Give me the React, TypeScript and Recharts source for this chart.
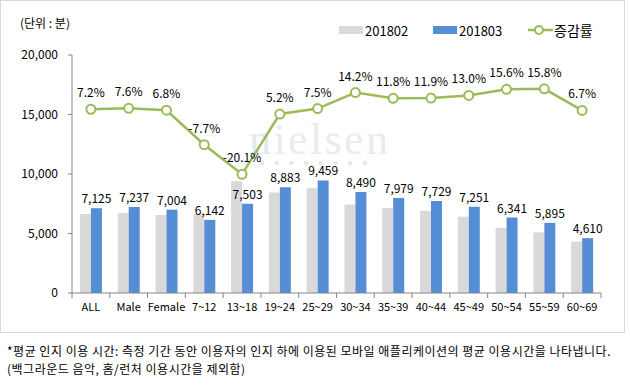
import { ComposedChart, Bar, Line, XAxis, YAxis, LabelList } from "recharts";

// 카테고리 / 월별 평균 이용시간(분) / 증감률(%)
const categories = ["ALL", "Male", "Female", "7~12", "13~18", "19~24", "25~29", "30~34", "35~39", "40~44", "45~49", "50~54", "55~59", "60~69"];
const feb2018 = [6646, 6726, 6558, 6654, 9390, 8444, 8799, 7434, 7137, 6907, 6417, 5485, 5091, 4321];
const mar2018 = [7125, 7237, 7004, 6142, 7503, 8883, 9459, 8490, 7979, 7729, 7251, 6341, 5895, 4610];
const growth = [7.2, 7.6, 6.8, -7.7, -20.1, 5.2, 7.5, 14.2, 11.8, 11.9, 13.0, 15.6, 15.8, 6.7];
const yTicks = [0, 5000, 10000, 15000, 20000];

const data = categories.map((name, i) => ({
  name,
  feb: feb2018[i],
  mar: mar2018[i],
  rate: growth[i],
}));

const W = 630;
const H = 386;
const margin = { top: 55, right: 29, left: 0, bottom: 63 };
const yAxisWidth = 72;
const band = (W - margin.left - margin.right - yAxisWidth) / categories.length;
const font = "'Noto Sans CJK KR', 'Noto Sans', sans-serif";
const axisColor = "#868686";

function CategoryTick(props: any) {
  const { x, y, payload, index } = props;
  const last = index === categories.length - 1;
  return (
    <g>
      <line x1={x - band / 2} x2={x - band / 2} y1={y} y2={y + 5} stroke={axisColor} />
      {last && <line x1={x + band / 2} x2={x + band / 2} y1={y} y2={y + 5} stroke={axisColor} />}
      <text x={x} y={y + 18} textAnchor="middle" fontSize={11} fill="#000" fontFamily={font}>
        {payload.value}
      </text>
    </g>
  );
}

// 범례: 차트 위쪽 여백을 바꾸지 않도록 차트 밖에 둔다
function ChartLegend() {
  const item = { display: "flex", alignItems: "center", fontSize: 13, color: "#000" } as const;
  return (
    <div style={{ position: "absolute", left: 339, top: 20, display: "flex", fontFamily: font }}>
      <div style={{ ...item, width: 94 }}>
        <span style={{ width: 24, height: 8, background: "#d9d9d9", marginRight: 2 }} />201802
      </div>
      <div style={{ ...item, width: 95 }}>
        <span style={{ width: 24, height: 8, background: "#558ed5", marginRight: 2 }} />201803
      </div>
      <div style={{ ...item, fontSize: 14 }}>
        <svg width={25} height={12} style={{ marginRight: 1 }}>
          <line x1={0} x2={25} y1={6} y2={6} stroke="#9bbb59" strokeWidth={2.5} />
          <circle cx={11} cy={6} r={4} fill="#fff" stroke="#9bbb59" strokeWidth={2} />
        </svg>
        증감률
      </div>
    </div>
  );
}

function Watermark() {
  const dots = [0, 1, 2, 3, 4, 5, 6, 7];
  return (
    <svg width={W} height={H} style={{ position: "absolute", left: 0, top: 0 }}>
      <text
        x={249}
        y={154}
        fontSize={44}
        textLength={139}
        lengthAdjust="spacing"
        fontFamily="'Liberation Serif', serif"
        fill="#ebebeb"
      >
        <tspan fill="#dcebf3">n</tspan>ielsen
      </text>
      {dots.map((d) => (
        <circle key={d} cx={262 + d * 14.7} cy={163} r={2.2} fill="#e6e6e6" />
      ))}
    </svg>
  );
}

export default function App() {
  return (
    <div style={{ position: "absolute", left: 0, top: 0, width: W, height: H, background: "#fff" }}>
      <div
        style={{
          position: "absolute",
          left: 0,
          top: 0,
          width: 625,
          height: 333,
          border: "1px solid #d9d9d9",
          boxSizing: "border-box",
        }}
      />
      <Watermark />
      <div style={{ position: "absolute", left: 20, top: 14, fontSize: 12, fontFamily: font, color: "#000" }}>
        (단위 : 분)
      </div>
      <ChartLegend />
      <div style={{ position: "absolute", left: 0, top: 0 }}>
        <ComposedChart width={W} height={H} data={data} margin={margin} barGap={0} barCategoryGap="21%">
          <XAxis
            dataKey="name"
            axisLine={{ stroke: axisColor }}
            tickLine={false}
            tickSize={0}
            tickMargin={0}
            height={30}
            interval={0}
            tick={<CategoryTick />}
          />
          <YAxis
            yAxisId="left"
            width={yAxisWidth}
            domain={[0, 20000]}
            ticks={yTicks}
            axisLine={{ stroke: axisColor }}
            tickLine={{ stroke: axisColor }}
            tickSize={4}
            tickMargin={10}
            tick={{ fontSize: 12, fill: "#000", fontFamily: font }}
            tickFormatter={(v: number) => v.toLocaleString("en-US")}
          />
          <YAxis yAxisId="right" orientation="right" hide domain={[-70, 30]} />
          <Bar yAxisId="left" dataKey="feb" name="201802" fill="#d9d9d9" isAnimationActive={false} />
          <Bar yAxisId="left" dataKey="mar" name="201803" fill="#558ed5" isAnimationActive={false}>
            <LabelList
              dataKey="mar"
              position="top"
              offset={5}
              fontSize={12}
              fill="#000"
              fontFamily={font}
              formatter={(v: any) => Number(v).toLocaleString("en-US")}
            />
          </Bar>
          <Line
            yAxisId="right"
            dataKey="rate"
            name="증감률"
            stroke="#9bbb59"
            strokeWidth={2.5}
            dot={{ r: 4.5, fill: "#fff", stroke: "#9bbb59", strokeWidth: 2 }}
            isAnimationActive={false}
          >
            <LabelList
              dataKey="rate"
              position="top"
              offset={12}
              fontSize={12}
              fill="#000"
              fontFamily={font}
              formatter={(v: any) => `${Number(v).toFixed(1)}%`}
            />
          </Line>
        </ComposedChart>
      </div>
      <div
        style={{
          position: "absolute",
          left: 7,
          top: 342,
          fontSize: 12,
          letterSpacing: 0.5,
          lineHeight: "18px",
          fontFamily: font,
          color: "#000",
          whiteSpace: "nowrap",
        }}
      >
        *평균 인지 이용 시간: 측정 기간 동안 이용자의 인지 하에 이용된 모바일 애플리케이션의 평균 이용시간을 나타냅니다.
        <br />
        (백그라운드 음악, 홈/런처 이용시간을 제외함)
      </div>
    </div>
  );
}
